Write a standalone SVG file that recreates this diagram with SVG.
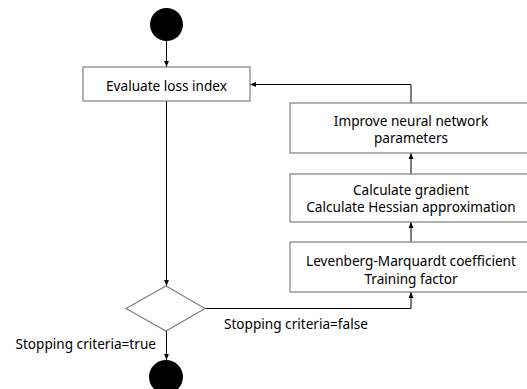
<svg xmlns="http://www.w3.org/2000/svg" width="527" height="389" viewBox="0 0 527 389">
<defs>
<marker id="arr" viewBox="0 0 6 6" refX="6" refY="3" markerWidth="6" markerHeight="6" markerUnits="userSpaceOnUse" orient="auto">
<path d="M0,0.6 L6,3 L0,5.4 Z" fill="#000"/>
</marker>
<style>
.box{fill:#fff;stroke:#7f7f7f;stroke-width:1.2}
.dot{fill:#000}
.t{font-family:"Noto Sans","Liberation Sans",sans-serif;font-size:13.6px;fill:#000}
.c{text-anchor:middle}
.ln{fill:none;stroke:#000;stroke-width:1;marker-end:url(#arr)}
</style>
</defs>
<rect width="527" height="389" fill="#fff"/>
<g id="connectors">
<path class="ln" d="M166.5,41 V67"/>
<path class="ln" d="M166.5,101 V286"/>
<path class="ln" d="M205,308.5 H411 V292"/>
<path class="ln" d="M411,242 V222"/>
<path class="ln" d="M411,174 V153"/>
<path class="ln" d="M411,103 V84.5 H250"/>
<path class="ln" d="M166.5,331 V360"/>
</g>
<g id="start"><circle class="dot" cx="166.5" cy="24.5" r="16.5"/></g>
<g id="evaluate">
<rect class="box" x="83" y="67" width="167" height="34"/>
<text class="t c" x="166.5" y="90.5">Evaluate loss index</text>
</g>
<g id="improve">
<rect class="box" x="290" y="103" width="245" height="50"/>
<text class="t c" x="411" y="125.5">Improve neural network</text>
<text class="t c" x="411" y="143">parameters</text>
</g>
<g id="calculate">
<rect class="box" x="290" y="174" width="245" height="48"/>
<text class="t c" x="411" y="194.5">Calculate gradient</text>
<text class="t c" x="411" y="212">Calculate Hessian approximation</text>
</g>
<g id="levenberg">
<rect class="box" x="290" y="242" width="245" height="50"/>
<text class="t c" x="411" y="266">Levenberg-Marquardt coefficient</text>
<text class="t c" x="411" y="283.5">Training factor</text>
</g>
<g id="decision">
<polygon class="box" points="166,286 205,308.5 166,331 126,308.5"/>
</g>
<g id="labels">
<text class="t" x="224" y="328.5">Stopping criteria=false</text>
<text class="t" x="15.5" y="348.5">Stopping criteria=true</text>
</g>
<g id="end"><circle class="dot" cx="166" cy="377" r="17"/></g>
</svg>
